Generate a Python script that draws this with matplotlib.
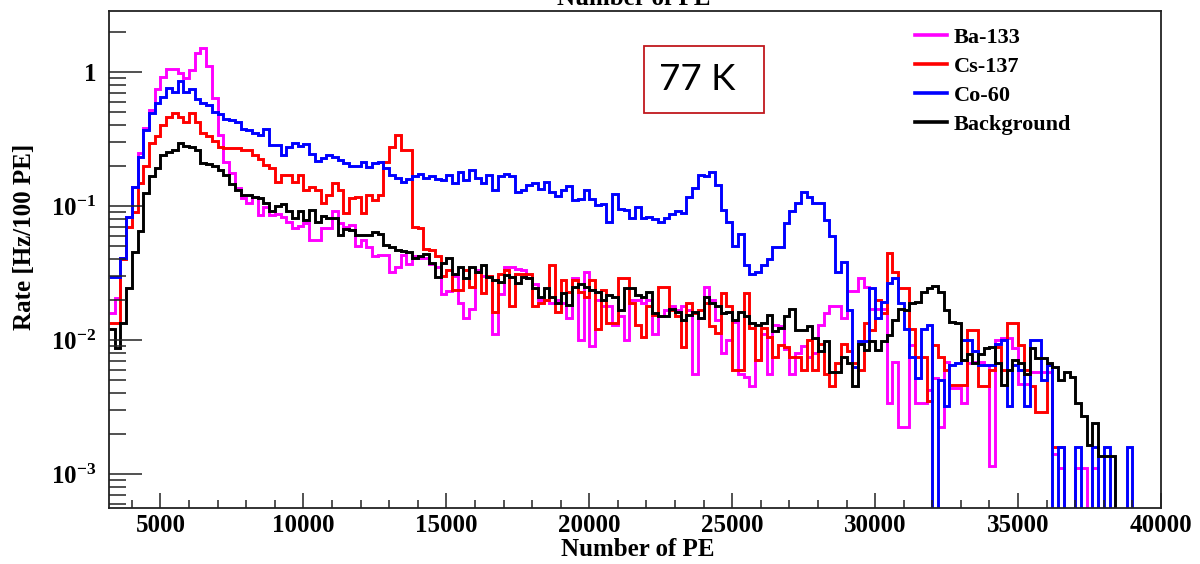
import numpy as np
import matplotlib
matplotlib.use("Agg")
import matplotlib.pyplot as plt
from matplotlib.patches import Rectangle
from matplotlib.ticker import FixedLocator, LogLocator, NullFormatter, FixedFormatter

plt.rcParams['font.family'] = ['Liberation Serif', 'DejaVu Serif']
plt.rcParams['font.weight'] = 'bold'
plt.rcParams['mathtext.fontset'] = 'custom'
plt.rcParams['mathtext.rm'] = 'Liberation Serif:bold'
plt.rcParams['mathtext.bf'] = 'Liberation Serif:bold'
plt.rcParams['mathtext.it'] = 'Liberation Serif:bold'

# histogram binning: 200 PE bins from 3200 to 40000
bin_start = 3200
bin_width = 200
n_bins = 184

ba133 = [
    0.016, 0.0205, 0.041, 0.083, 0.139, 0.25, 0.38, 0.52, 0.75, 0.92,
    1.06, 1.06, 0.98, 0.90, 1.03, 1.38, 1.50, 1.10, 0.64, 0.34,
    0.214, 0.175, 0.135, 0.114, 0.105, 0.117, 0.086, 0.099, 0.086, 0.087,
    0.083, 0.076, 0.068, 0.071, 0.074, 0.056, 0.056, 0.068, 0.068, 0.091,
    0.074, 0.070, 0.072, 0.050, 0.056, 0.049, 0.042, 0.043, 0.043, 0.032,
    0.035, 0.043, 0.037, 0.042, 0.041, 0.041, 0.037, 0.035, 0.022, 0.023,
    0.030, 0.019, 0.0145, 0.017, 0.033, 0.030, 0.030, 0.011, 0.022, 0.035,
    0.035, 0.034, 0.033, 0.029, 0.026, 0.020, 0.020, 0.019, 0.020, 0.019,
    0.0145, 0.029, 0.010, 0.032, 0.009, 0.020, 0.018, 0.018, 0.013, 0.015,
    0.010, 0.020, 0.020, 0.019, 0.020, 0.011, 0.015, 0.0166, 0.018, 0.0166,
    0.018, 0.0166, 0.0056, 0.0145, 0.025, 0.020, 0.014, 0.008, 0.010, 0.0137,
    0.0056, 0.0053, 0.0045, 0.0071, 0.011, 0.0056, 0.013, 0.0126, 0.0085, 0.0056,
    0.008, 0.009, 0.0075, 0.008, 0.013, 0.016, 0.018, 0.018, 0.0145, 0.023,
    0.023, 0.029, 0.025, 0.017, 0.017, 0.017, 0.0034, 0.0069, 0.00225, 0.00225,
    0.0092, 0.0034, 0.0034, 0.0042, 0.0052, 0.00225, 0.0069, 0.0044, 0.0044, 0.0034,
    0.0067, 0.0069, 0.0069, 0.0065, 0.00114, 0.010, 0.0103, 0.0103, 0.0087, 0.0047,
    0.0047, 0.0058, 0.0058, 0.0058, 0.0058, 0.0014, 0.0011, 0, 0, 0.0011,
    0.0011, 0, 0.0011, 0, 0, 0, 0, 0, 0, 0,
    0, 0, 0, 0,
]

cs137 = [
    0.0133, 0.0133, 0.040, 0.070, 0.090, 0.148, 0.197, 0.294, 0.33, 0.40,
    0.464, 0.491, 0.464, 0.426, 0.491, 0.426, 0.349, 0.333, 0.307, 0.277,
    0.27, 0.27, 0.27, 0.262, 0.262, 0.24, 0.224, 0.202, 0.191, 0.150,
    0.17, 0.17, 0.150, 0.17, 0.132, 0.139, 0.132, 0.106, 0.121, 0.149,
    0.132, 0.088, 0.114, 0.117, 0.088, 0.121, 0.111, 0.121, 0.214, 0.277,
    0.339, 0.262, 0.262, 0.070, 0.068, 0.048, 0.047, 0.042, 0.030, 0.033,
    0.0236, 0.0236, 0.033, 0.025, 0.0324, 0.0223, 0.030, 0.0163, 0.031, 0.033,
    0.018, 0.031, 0.031, 0.031, 0.018, 0.019, 0.020, 0.036, 0.0163, 0.028,
    0.0228, 0.028, 0.0228, 0.021, 0.028, 0.012, 0.0236, 0.0133, 0.0133, 0.029,
    0.029, 0.019, 0.013, 0.0106, 0.018, 0.0153, 0.025, 0.025, 0.0166, 0.015,
    0.0089, 0.019, 0.016, 0.0166, 0.019, 0.0126, 0.0112, 0.0223, 0.018, 0.006,
    0.006, 0.0223, 0.0122, 0.0071, 0.0122, 0.0106, 0.0075, 0.0092, 0.0089, 0.0075,
    0.0075, 0.006, 0.010, 0.006, 0.0094, 0.0056, 0.0045, 0.0067, 0.0094, 0.0082,
    0.0067, 0.006, 0.0133, 0.0119, 0.0198, 0.0159, 0.0444, 0.032, 0.0243, 0.0243,
    0.012, 0.0075, 0.0075, 0.0035, 0.0092, 0.0075, 0.006, 0.0046, 0.0046, 0.0046,
    0.0119, 0.0119, 0.0045, 0.0045, 0.006, 0.0089, 0.006, 0.0133, 0.0133, 0.0092,
    0.006, 0.0045, 0.0029, 0.0029, 0.0065, 0.0016, 0.0016, 0, 0, 0,
    0, 0, 0, 0, 0, 0, 0, 0, 0, 0,
    0, 0, 0, 0,
]

co60 = [
    0.0297, 0.0297, 0.041, 0.083, 0.139, 0.233, 0.369, 0.492, 0.584, 0.647,
    0.755, 0.713, 0.857, 0.713, 0.743, 0.625, 0.584, 0.567, 0.506, 0.486,
    0.443, 0.438, 0.426, 0.375, 0.369, 0.352, 0.339, 0.375, 0.285, 0.285,
    0.238, 0.274, 0.297, 0.282, 0.29, 0.244, 0.218, 0.227, 0.239, 0.233,
    0.22, 0.21, 0.20, 0.20, 0.214, 0.196, 0.208, 0.214, 0.191, 0.170,
    0.161, 0.152, 0.158, 0.168, 0.172, 0.163, 0.168, 0.158, 0.156, 0.170,
    0.148, 0.180, 0.156, 0.186, 0.161, 0.148, 0.170, 0.132, 0.166, 0.172,
    0.166, 0.126, 0.132, 0.143, 0.148, 0.134, 0.150, 0.126, 0.119, 0.132,
    0.142, 0.110, 0.113, 0.132, 0.113, 0.102, 0.103, 0.076, 0.122, 0.095,
    0.093, 0.081, 0.099, 0.081, 0.083, 0.080, 0.076, 0.081, 0.087, 0.091,
    0.089, 0.117, 0.135, 0.170, 0.168, 0.180, 0.143, 0.093, 0.076, 0.050,
    0.062, 0.036, 0.031, 0.032, 0.036, 0.040, 0.049, 0.049, 0.074, 0.091,
    0.106, 0.128, 0.117, 0.106, 0.105, 0.079, 0.060, 0.032, 0.038, 0.0168,
    0.0063, 0.0098, 0.0098, 0.0243, 0.0145, 0.0193, 0.0265, 0.029, 0.019, 0.012,
    0.0075, 0.0052, 0.012, 0.013, 0, 0.005, 0.0032, 0.0065, 0.0067, 0.010,
    0.010, 0.0082, 0.0065, 0.0065, 0.0065, 0.0094, 0.010, 0.0032, 0.0065, 0.006,
    0.0032, 0.010, 0.010, 0.005, 0.0065, 0, 0.0016, 0, 0, 0.0016,
    0, 0, 0.0016, 0, 0.0016, 0, 0, 0, 0.0016, 0,
    0, 0, 0, 0,
]

background = [
    0.012, 0.0087, 0.0133, 0.0243, 0.045, 0.0645, 0.124, 0.166, 0.191, 0.238,
    0.254, 0.262, 0.294, 0.28, 0.274, 0.262, 0.208, 0.206, 0.197, 0.186,
    0.17, 0.146, 0.132, 0.121, 0.121, 0.117, 0.114, 0.105, 0.092, 0.10,
    0.103, 0.091, 0.081, 0.091, 0.078, 0.093, 0.076, 0.084, 0.081, 0.081,
    0.061, 0.067, 0.066, 0.061, 0.061, 0.061, 0.064, 0.062, 0.051, 0.049,
    0.047, 0.046, 0.045, 0.041, 0.042, 0.044, 0.0373, 0.0297, 0.0373, 0.041,
    0.031, 0.0353, 0.0289, 0.0353, 0.0324, 0.036, 0.0297, 0.028, 0.0272, 0.0306,
    0.0297, 0.0264, 0.0297, 0.0289, 0.0243, 0.021, 0.0243, 0.021, 0.0188, 0.0223,
    0.0181, 0.025, 0.026, 0.025, 0.0236, 0.0228, 0.0198, 0.0217, 0.021, 0.0166,
    0.0243, 0.0243, 0.0217, 0.021, 0.0228, 0.0159, 0.015, 0.015, 0.0171, 0.0163,
    0.0141, 0.0153, 0.0163, 0.0145, 0.021, 0.0188, 0.0178, 0.0159, 0.0163, 0.0141,
    0.0163, 0.015, 0.0133, 0.013, 0.0133, 0.0153, 0.0116, 0.0122, 0.015, 0.0171,
    0.0119, 0.0119, 0.0126, 0.0103, 0.0082, 0.0098, 0.0058, 0.0058, 0.0075, 0.0067,
    0.0045, 0.0094, 0.0084, 0.0098, 0.0084, 0.0098, 0.0109, 0.0141, 0.0171, 0.0168,
    0.0188, 0.0193, 0.0228, 0.0243, 0.0254, 0.0228, 0.0168, 0.0137, 0.0133, 0.0071,
    0.0079, 0.0067, 0.0079, 0.0087, 0.0089, 0.0067, 0.0046, 0.006, 0.0071, 0.0067,
    0.0056, 0.0087, 0.0073, 0.0073, 0.0067, 0.0063, 0.005, 0.0058, 0.0053, 0.0034,
    0.0027, 0.00165, 0.0024, 0.00135, 0.00135, 0.00135, 0, 0, 0, 0,
    0, 0, 0, 0,
]

series = [
    ('Ba-133', ba133, '#ff00ff'),
    ('Cs-137', cs137, '#ff0000'),
    ('Co-60', co60, '#0000ff'),
    ('Background', background, '#000000'),
]

edges = bin_start + bin_width * np.arange(n_bins + 1)

fig = plt.figure(figsize=(12, 5.64), dpi=100)
ax = fig.add_axes([109 / 1200, 1 - 508 / 564, 1052 / 1200, 497 / 564])

for label, vals, col in series:
    v = np.asarray(vals, dtype=float)
    # empty bins drop to the bottom of the log axis like in ROOT
    v = np.where(v > 0, v, 1e-7)
    ax.stairs(v, edges, baseline=None, color=col, lw=2.1, label=label)

ax.set_yscale('log')
ax.set_xlim(3200, 40000)
ax.set_ylim(5.57e-4, 2.85)

ax.xaxis.set_major_locator(FixedLocator(np.arange(5000, 40001, 5000)))
ax.xaxis.set_minor_locator(FixedLocator(np.arange(4000, 40001, 1000)))
ax.yaxis.set_major_locator(FixedLocator([1e-3, 1e-2, 1e-1, 1]))
ax.yaxis.set_major_formatter(FixedFormatter([r'$10^{-3}$', r'$10^{-2}$', r'$10^{-1}$', '1']))
ax.yaxis.set_minor_locator(LogLocator(base=10, subs=np.arange(2, 10), numticks=20))
ax.yaxis.set_minor_formatter(NullFormatter())

ax.tick_params(axis='both', which='both', direction='in', top=False, right=False,
               width=1.1, colors='#222222', labelcolor='black')
ax.tick_params(axis='x', which='major', length=11, pad=4, labelsize=18)
ax.tick_params(axis='x', which='minor', length=5.5)
ax.tick_params(axis='y', which='major', length=24, pad=9, labelsize=18)
ax.tick_params(axis='y', which='minor', length=12.5)
for lab in ax.get_xticklabels() + ax.get_yticklabels():
    lab.set_fontweight('bold')

for sp in ax.spines.values():
    sp.set_linewidth(1.3)
    sp.set_color('#222222')

fig.text(638 / 1200, 1 - 549 / 564, 'Number of PE', ha='center', va='center',
         fontsize=18, fontweight='bold')
fig.text(25 / 1200, 1 - 237 / 564, 'Rate [Hz/100 PE]', ha='center', va='center',
         rotation=90, fontsize=18, fontweight='bold')
# histogram title, almost fully cut off by the top of the image (as in the original)
fig.text(634 / 1200, 1 - 5 / 564, 'Number of PE', ha='center', va='baseline',
         fontsize=18, fontweight='bold')

leg = ax.legend(loc='upper left', bbox_to_anchor=(915 / 1200, 1 - 27 / 564),
                bbox_transform=fig.transFigure, frameon=False, fontsize=16,
                handlelength=1.45, handletextpad=0.3, labelspacing=0.38,
                borderpad=0, borderaxespad=0)
for t in leg.get_texts():
    t.set_fontweight('bold')
for h in leg.get_lines():
    h.set_linewidth(2.6)

# temperature annotation box
fig.patches.append(Rectangle((644 / 1200, 1 - 113 / 564), 120 / 1200, 67 / 564,
                             transform=fig.transFigure, fill=True, fc='white',
                             ec='#c0181e', lw=1.3, zorder=5))
fig.text(697 / 1200, 1 - 79 / 564, '77 K', ha='center', va='center',
         fontsize=26.5, family='Lato', fontweight='normal', zorder=6)

fig.savefig('out.png', dpi=100)
